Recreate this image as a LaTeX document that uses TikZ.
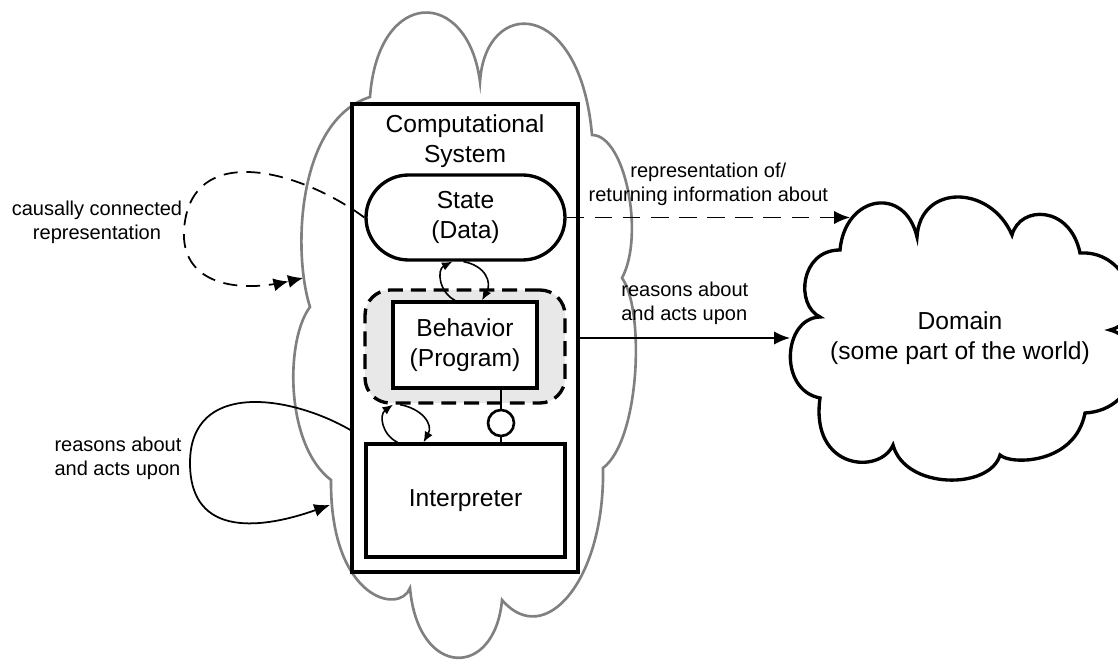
\documentclass[tikz,border=0pt]{standalone}
\usepackage{fontspec}
\setmainfont{Liberation Sans}
\usetikzlibrary{arrows.meta, calc}

\newcommand{\boxtxtfont}{\fontsize{14}{17}\selectfont}
\newcommand{\lbltxtfont}{\fontsize{11.4}{13.7}\selectfont}

\tikzstyle{sysbox} = [rectangle, draw=black, line width=1.9pt, minimum width=4.52cm, minimum height=9.36cm]
\tikzstyle{titletext} = [align=center, font=\boxtxtfont]
\tikzstyle{statebox} = [rectangle, rounded corners=0.85cm, draw=black, line width=1.9pt, fill=white, minimum width=3.98cm, minimum height=1.7cm, align=center, font=\boxtxtfont]
\tikzstyle{zone} = [rectangle, rounded corners=0.5cm, draw=black, line width=1.9pt, dash pattern=on 8.5pt off 4.5pt, fill=black!9, minimum width=4cm, minimum height=2.26cm]
\tikzstyle{process} = [rectangle, draw=black, line width=1.9pt, fill=white, align=center, font=\boxtxtfont]
\tikzstyle{portcircle} = [circle, draw=black, line width=1.5pt, fill=white, minimum size=0.52cm, inner sep=0pt]
\tikzstyle{lbl} = [align=center, font=\lbltxtfont]
\tikzstyle{arrow} = [line width=1pt, -{Latex[length=9pt,width=7.5pt]}]
\tikzstyle{dasharrow} = [arrow, dash pattern=on 10pt off 6pt]
\tikzstyle{looparrow} = [line width=1pt, dash pattern=on 8pt off 5pt, -{Latex[length=8.5pt,width=7.5pt]Latex[length=8.5pt,width=7.5pt]}]
\tikzstyle{cyclearrow} = [line width=0.9pt, -{Latex[length=6pt,width=5pt]}]
\tikzstyle{link} = [line width=0.9pt]
\tikzstyle{world} = [draw=black!50, line width=1.5pt]
\tikzstyle{domaincloud} = [draw=black, line width=1.9pt]

\begin{document}
\begin{tikzpicture}[x=0.02cm, y=0.02cm]
\useasboundingbox (0,0) rectangle (1118,-661);

% the world round the system
\draw[world] (370,-97)
  .. controls (378,13) and (468,13) .. (480,-82)
  .. controls (485,3) and (580,3) .. (592,-135)
  .. controls (625,-135) and (645,-235) .. (622,-278)
  .. controls (645,-310) and (640,-440) .. (603,-468)
  .. controls (605,-580) and (545,-650) .. (502,-600)
  .. controls (495,-679) and (418,-679) .. (410,-588)
  .. controls (400,-615) and (330,-600) .. (331,-480)
  .. controls (285,-445) and (285,-340) .. (310,-307)
  .. controls (292,-250) and (298,-120) .. (370,-97) -- cycle;

% domain cloud
\draw[domaincloud] (820,-317)
  .. controls (795,-305) and (800,-250) .. (840,-250)
  .. controls (845,-195) and (905,-185) .. (917,-237)
  .. controls (920,-184) and (990,-184) .. (1012,-235)
  .. controls (1020,-205) and (1070,-205) .. (1080,-253)
  .. controls (1130,-250) and (1150,-320) .. (1110,-330)
  .. controls (1150,-340) and (1140,-410) .. (1085,-413)
  .. controls (1075,-465) and (1010,-465) .. (1000,-455)
  .. controls (990,-490) and (905,-490) .. (893,-445)
  .. controls (880,-475) and (810,-470) .. (820,-398)
  .. controls (778,-390) and (783,-318) .. (820,-317) -- cycle;
\node (domain) [lbl, font=\boxtxtfont] at (960,-338) {Domain\\(some part of the world)};

\node (sys) [sysbox] at (465,-338) {};
\node (title) [titletext] at (465,-141) {Computational\\System};
\node (state) [statebox] at (465.5,-217.5) {State\\(Data)};
\node (behzone) [zone] at (465,-346.5) {};
\node (beh) [process, minimum width=2.88cm, minimum height=1.72cm] at (465,-345) {Behavior\\(Program)};
\node (interp) [process, minimum width=3.98cm, minimum height=2.26cm] at (465.5,-500.5) {Interpreter};
\node (port) [portcircle] at (501,-423) {};

\coordinate (repin) at (850,-217.5);
\coordinate (actin) at (790,-338);
\coordinate (ccin) at (303,-278);
\coordinate (rain) at (330,-505);

\draw[link] (beh.south -| port) -- (port);
\draw[link] (port) -- (port |- interp.north);

% little cycles between the parts
\draw[cyclearrow] ($(beh.north)+(-10,0)$) .. controls +(-16,8) and +(-16,-8) .. ($(state.south)+(-13,0)$);
\draw[cyclearrow] ($(state.south)+(-2,0)$) .. controls +(22,-4) and +(10,18) .. ($(beh.north)+(17,0)$);
\draw[cyclearrow] ($(interp.north)+(-68,0)$) .. controls +(-16,8) and +(-14,-10) .. ($(behzone.south)+(-72,0)$);
\draw[cyclearrow] ($(behzone.south)+(-65,0)$) .. controls +(22,-4) and +(10,18) .. ($(interp.north)+(-42,0)$);

\draw[dasharrow] (state.east) -- node[lbl, above=3pt] {representation of/\\returning information about} (repin);
\draw[arrow] (sys.east) -- node[lbl, above=4pt, align=left] {reasons about\\and acts upon} (actin);

\draw[looparrow] (state.west) .. controls (300,-170) and (190,-140) .. (184,-230)
  .. controls (181,-280) and (230,-295) .. (ccin);
\draw[arrow] ($(sys.west)+(0,-92)$) .. controls (290,-395) and (190,-380) .. (190,-463)
  .. controls (190,-540) and (265,-528) .. (rain);

\node (cclbl) [lbl] at (97,-222) {causally connected\\representation};
\node (ralbl) [lbl, align=left] at (118,-458) {reasons about\\and acts upon};

\end{tikzpicture}
\end{document}
